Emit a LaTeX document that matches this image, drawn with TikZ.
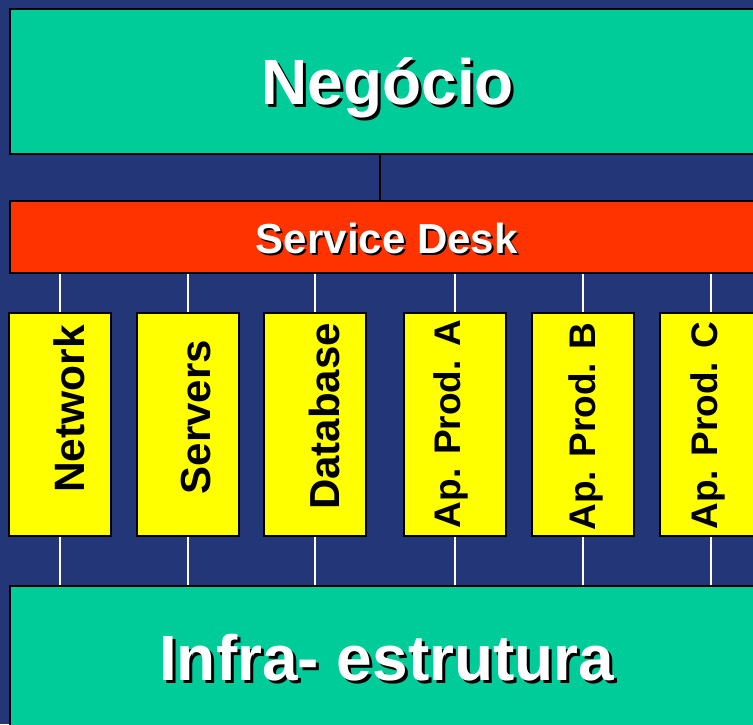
\documentclass[tikz,border=0pt]{standalone}
\usepackage{fontspec}
\setmainfont{Liberation Sans}
\definecolor{fundo}{RGB}{34,54,120}
\definecolor{verde}{RGB}{0,204,153}
\definecolor{vermelho}{RGB}{255,51,0}
\definecolor{amarelo}{RGB}{255,255,0}
\newcommand{\sombra}[2][3pt]{\makebox[0pt][l]{\kern#1\raisebox{-#1}{\color{black}#2}}#2}
\begin{document}
\begin{tikzpicture}[x=1pt,y=-1pt,
  caixa/.style={draw=black,line width=1.5pt,inner sep=0pt,anchor=north west,text depth=0pt},
  titulo/.style={caixa,fill=verde,text=white,text height=46pt,font=\fontsize{64}{64}\selectfont\bfseries},
  coluna/.style={draw=black,line width=1.5pt,fill=amarelo,minimum width=102pt,minimum height=223pt,inner sep=0pt},
  rotulo/.style={rotate=90,inner sep=0pt,font=\fontsize{42}{42}\selectfont\bfseries},
  ligacao/.style={white,line width=1.2pt}]
\useasboundingbox (0,0) rectangle (753,724);
\clip (0,0) rectangle (753,724);
\fill[fundo] (0,0) rectangle (753,724);
\node[titulo,minimum width=756pt,minimum height=145pt] (neg) at (9,8) {\sombra{Negócio}};
\node[caixa,fill=vermelho,text=white,text height=34pt,minimum width=754pt,minimum height=72pt,font=\fontsize{42}{42}\selectfont\bfseries] (sd) at (9,200) {\sombra[2pt]{Service Desk}};
\node[titulo,text height=47pt,minimum width=754pt,minimum height=143pt] (infra) at (9,585) {\sombra{Infra- estrutura}};
\draw[black,line width=1.8pt] ([xshift=-8pt]neg.south) -- ([xshift=-8pt]neg.south |- sd.north);
\node[coluna] (net) at (60,424.5) {};
\node[coluna] (srv) at (188,424.5) {};
\node[coluna] (db) at (315,424.5) {};
\node[coluna] (apa) at (455,424.5) {};
\node[coluna] (apb) at (583,424.5) {};
\node[coluna] (apc) at (711,424.5) {};
\foreach \c in {net,srv,db,apa,apb,apc} {
  \draw[ligacao] (\c.north |- sd.south) -- (\c.north);
  \draw[ligacao] (\c.south) -- (\c.south |- infra.north);
}
\node[rotulo,font=\fontsize{42.5}{42.5}\selectfont\bfseries] (netlbl) at (69,409) {Network};
\node[rotulo] (srvlbl) at (196,417) {Servers};
\node[rotulo] (dblbl) at (324.5,416.5) {Database};
\node[rotulo,font=\fontsize{37}{37}\selectfont\bfseries] (apalbl) at (451,424) {Ap. Prod. A};
\node[rotulo,font=\fontsize{37}{37}\selectfont\bfseries] (apblbl) at (586,426.5) {Ap. Prod. B};
\node[rotulo,font=\fontsize{37}{37}\selectfont\bfseries] (apclbl) at (708,425.5) {Ap. Prod. C};
\end{tikzpicture}
\end{document}
